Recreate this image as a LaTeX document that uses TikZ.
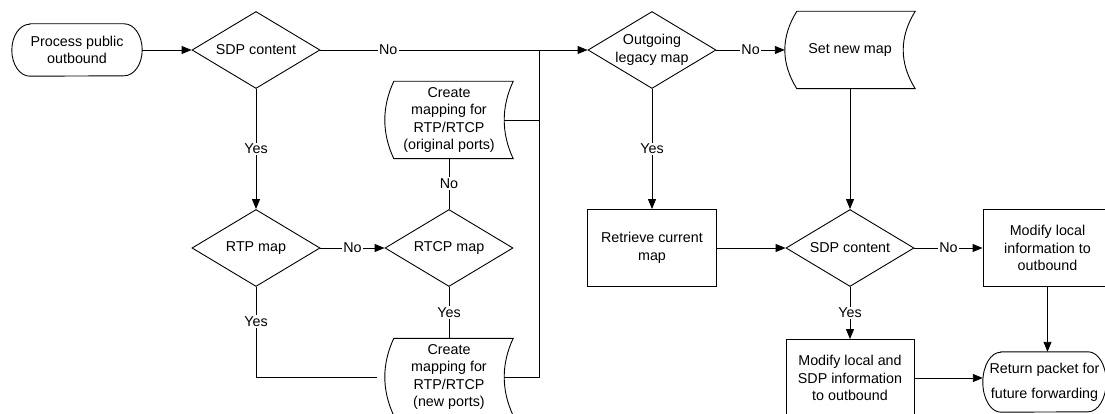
\documentclass[tikz,border=0pt]{standalone}
\usepackage{fontspec}
\setmainfont{Liberation Sans}
\usetikzlibrary{shapes.geometric,arrows.meta,calc}

% Terminator outline with elliptical ends: #1 node, #2 end radius, #3 half height
\newcommand\termshape[3]{%
  \draw[flow] ($(#1.north west)+(#2,0pt)$) -- ($(#1.north east)+(-#2,0pt)$)
    arc[start angle=90, end angle=-90, x radius=#2, y radius=#3]
    -- ($(#1.south west)+(#2,0pt)$)
    arc[start angle=270, end angle=90, x radius=#2, y radius=#3] -- cycle;}

% Stored-data outline (curved left and right sides): #1 node, #2 curve depth
\newcommand\storedshape[2]{%
  \draw[flow] ($(#1.north west)+(#2,0)$) -- (#1.north east)
    .. controls ($(#1.north east)+(-1.333*#2,25.7)$) and ($(#1.south east)+(-1.333*#2,-25.7)$) .. (#1.south east)
    -- ($(#1.south west)+(#2,0)$)
    .. controls ($(#1.south west)+(-0.333*#2,-25.7)$) and ($(#1.north west)+(-0.333*#2,25.7)$) .. cycle;}

\begin{document}
\begin{tikzpicture}[x=1pt,y=-1pt,
  every node/.style={font=\fontsize{14.3pt}{17.5pt}\selectfont, align=center},
  flow/.style={draw=black, line width=0.9pt},
  arr/.style={flow, -{Triangle[length=10pt,width=8pt]}},
  decision/.style={diamond, draw=black, line width=0.9pt, aspect=1.66, inner sep=0pt,
                   minimum width=128pt, minimum height=77pt},
  procbox/.style={rectangle, draw=black, line width=0.9pt, inner sep=0pt,
                  minimum width=129pt, minimum height=77pt},
  outline/.style={rectangle, inner sep=0pt},
  lbl/.style={fill=white, inner sep=1.5pt}
]
\useasboundingbox (0,0) rectangle (1105,414);
\fill[white] (0,0) rectangle (1105,414);

% ---- nodes ----
\node[outline, minimum width=130pt, minimum height=52pt] (start) at (77,50) {Process public\\outbound};
\node[decision] (sdp1) at (256,50) {SDP content};
\node[decision] (rtp) at (256,248) {RTP map};
\node[decision] (rtcp) at (449,248) {RTCP map};
\node[outline, minimum width=128pt, minimum height=77pt] (orig) at (449,120)
  {Create\\mapping for\\RTP/RTCP\\(original ports)};
\node[outline, minimum width=128pt, minimum height=77pt] (newp) at (449,377)
  {Create\\mapping for\\RTP/RTCP\\(new ports)};
\node[decision] (legacy) at (652,50) {Outgoing\\legacy map};
\node[outline, minimum width=130pt, minimum height=77pt] (setmap) at (850,50) {Set new map};
\node[procbox] (retr) at (652,248) {Retrieve current\\map};
\node[decision] (sdp2) at (850,248) {SDP content};
\node[procbox] (modl) at (1047.5,248) {Modify local\\information to\\outbound};
\node[procbox, minimum width=128pt] (modsdp) at (850,378) {Modify local and\\SDP information\\to outbound};
\node[outline, minimum width=123pt, minimum height=60pt,
      font=\fontsize{14.3pt}{25pt}\selectfont] (ret) at (1044.5,382)
  {Return packet for\\future forwarding};

% ---- custom outlines ----
\termshape{start}{18pt}{26pt}
\termshape{ret}{18pt}{30pt}
\storedshape{orig}{9}
\storedshape{newp}{9}
\storedshape{setmap}{12}

% ---- connectors ----
\draw[arr] (start.east) -- (sdp1.west);
\draw[arr] (sdp1.south) -- node[lbl]{Yes} (rtp.north);
\draw[arr] (rtp.east) -- node[lbl]{No} (rtcp.west);
\draw[flow] (rtcp.north) -- node[lbl]{No} (orig.south);
\draw[flow] (rtcp.south) -- node[lbl]{Yes} (newp.north);

\coordinate (newpL) at ($(newp.west)+(-8,0)$);
\draw[flow] (rtp.south) |- node[lbl, pos=0.19]{Yes} (newpL);

\coordinate (origR) at ($(orig.east)+(-9,0)$);
\coordinate (newpR) at ($(newp.east)+(-9,0)$);
\coordinate (merge) at (539,50);
\draw[flow] (origR) -- (origR -| merge);
\draw[flow] (newpR) -| (merge);

\draw[arr] (sdp1.east) -- node[lbl, pos=0.254]{No} (legacy.west);
\draw[arr] (legacy.south) -- node[lbl]{Yes} (retr.north);
\draw[arr] (legacy.east) -- node[lbl]{No} (setmap.west);
\draw[arr] (setmap.south) -- (sdp2.north);
\draw[arr] (retr.east) -- (sdp2.west);
\draw[arr] (sdp2.east) -- node[lbl]{No} (modl.west);
\draw[arr] (sdp2.south) -- node[lbl]{Yes} (modsdp.north);
\draw[arr] (modl.south) -- (modl.south |- ret.north);
\draw[arr] (modsdp.east) -- (modsdp.east -| ret.west);
\end{tikzpicture}
\end{document}
